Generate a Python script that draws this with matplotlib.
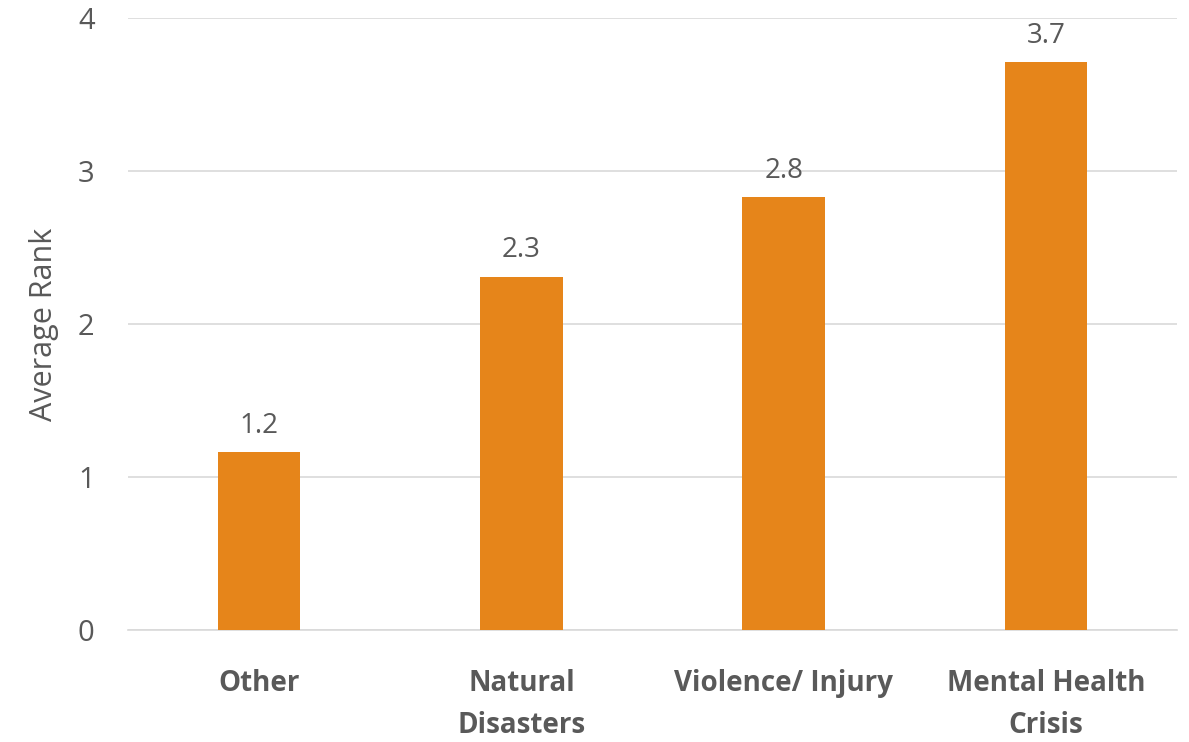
import matplotlib.pyplot as plt

categories = ["Other", "Natural\nDisasters", "Violence/ Injury", "Mental Health\nCrisis"]
avg_rank = [1.16, 2.31, 2.83, 3.71]
y_ticks = [0, 1, 2, 3, 4]

bar_color = "#E6851A"
text_color = "#595959"
grid_color = "#D9D9D9"

plt.rcParams['font.family'] = ['Open Sans', 'DejaVu Sans']

fig = plt.figure(figsize=(11.89, 7.42), dpi=100)
ax = fig.add_axes([0.1077, 0.151, 0.8823, 0.8247])

x = range(len(categories))
bars = ax.bar(x, avg_rank, width=0.315, color=bar_color, zorder=3)

for rect, v in zip(bars, avg_rank):
    ax.annotate(f"{v:.1f}", (rect.get_x() + rect.get_width() / 2, v),
                xytext=(0, 9), textcoords="offset points",
                ha="center", va="bottom", fontsize=20, color=text_color)

ax.set_xlim(-0.5, len(categories) - 0.5)
ax.set_ylim(0, 4)
ax.set_yticks(y_ticks)
ax.set_xticks(list(x))
ax.set_xticklabels(categories, fontsize=20, fontweight="bold", color=text_color,
                   linespacing=1.6, va="top")
ax.tick_params(axis="x", length=0, pad=28)
ax.tick_params(axis="y", length=0, pad=24, labelsize=21, labelcolor=text_color)
ax.set_ylabel("Average Rank", fontsize=22, color=text_color, labelpad=14)

ax.yaxis.grid(True, color=grid_color, linewidth=1.2, zorder=0)
for side in ["top", "right", "left"]:
    ax.spines[side].set_visible(False)
ax.spines["bottom"].set_color(grid_color)
ax.spines["bottom"].set_linewidth(1.2)

fig.savefig("out.png", dpi=100)
